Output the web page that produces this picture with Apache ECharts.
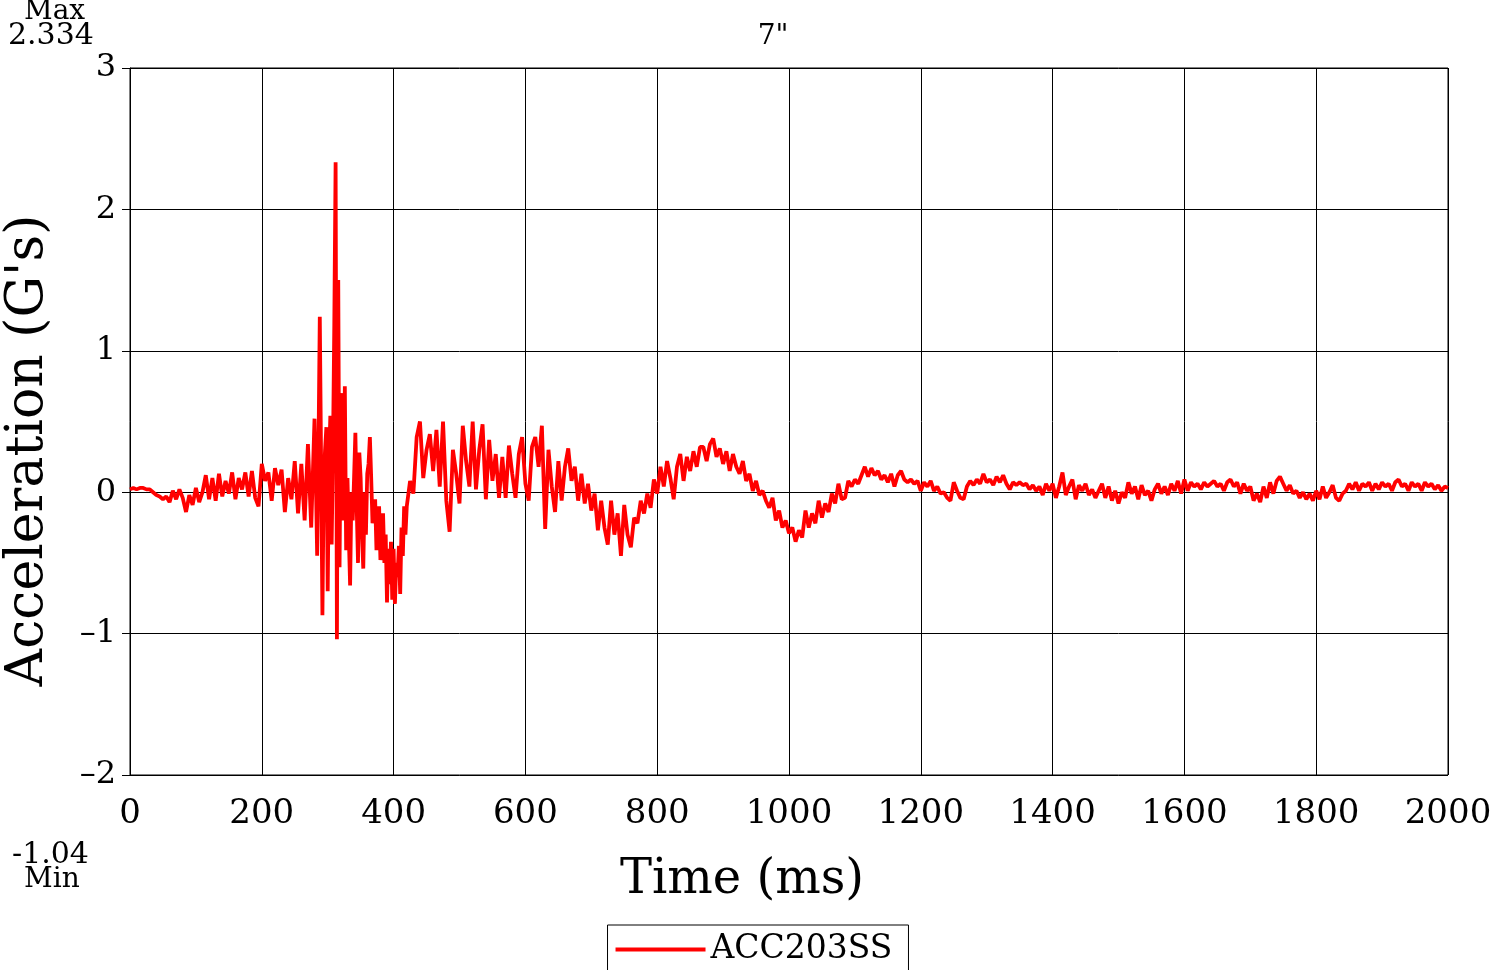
<!DOCTYPE html>
<html>
<head>
<meta charset="utf-8">
<script src="https://cdn.jsdelivr.net/npm/echarts@6/dist/echarts.min.js"></script>
<style>
html,body{margin:0;padding:0;background:#fff;}
#chart{width:1508px;height:970px;}
</style>
</head>
<body>
<div id="chart"></div>
<script>
// ---- data ----
const chartTitle = '7"';
const seriesName = 'ACC203SS';
const maxLabel = '2.334';
const minLabel = '-1.04';
const yTicks = { min: -2, max: 3, interval: 1 };
const xTicks = { min: 0, max: 2000, interval: 200 };

// segment A: 0..275 ms, every 5 ms
const segAStart = 0, segAStep = 5;
const segA = [
  0.02,0.03,0.02,0.03,0.03,0.02,0.02,0.0,-0.02,-0.03,
  -0.05,-0.03,-0.07,0.01,-0.05,0.02,-0.04,-0.14,-0.02,-0.09,
  0.03,-0.07,0.0,0.12,-0.05,0.1,-0.06,0.13,-0.03,0.08,
  -0.01,0.14,-0.05,0.1,0.02,0.14,-0.03,0.15,-0.04,-0.1,
  0.2,0.08,0.14,-0.06,0.17,0.05,0.16,-0.14,0.1,-0.05,
  0.22,-0.15,0.2,-0.2,0.34,-0.25
];
// segment B: 280..418 ms, every 2 ms (impact zone)
const segBStart = 280, segBStep = 2;
const segB = [
  0.52,0.1,-0.45,0.3,1.24,0.2,-0.87,0.1,0.3,0.46,
  -0.7,0.2,0.54,-0.37,0.3,1.18,2.334,-1.04,1.5,-0.53,
  0.7,0.54,-0.2,0.75,-0.41,0.1,-0.3,-0.66,0.0,-0.2,
  0.1,0.42,-0.1,-0.5,0.28,0.1,-0.3,-0.54,0.0,-0.3,
  0.13,0.2,0.39,0.1,-0.22,-0.1,-0.05,-0.41,-0.2,-0.1,
  -0.48,-0.3,-0.15,-0.5,-0.3,-0.78,-0.4,-0.65,-0.35,-0.76,
  -0.4,-0.79,-0.5,-0.6,-0.38,-0.72,-0.25,-0.45,-0.1,-0.3
];
// segment C: 420..2000 ms, every 5 ms
const segCStart = 420, segCStep = 5;
const segC = [
  -0.1,0.08,-0.01,0.39,0.5,0.1,0.3,0.41,0.15,0.44,
  0.04,0.5,-0.06,-0.28,0.3,0.13,-0.08,0.47,0.22,0.04,
  0.5,0.02,0.3,0.48,-0.05,0.37,0.08,0.27,-0.04,0.25,
  -0.04,0.33,0.13,-0.04,0.27,0.39,0.06,-0.06,0.32,0.39,
  0.18,0.47,-0.26,0.3,0.04,-0.14,0.22,-0.06,0.18,0.31,
  0.08,0.18,-0.06,0.13,-0.08,0.06,-0.13,-0.01,-0.27,-0.06,
  -0.25,-0.37,-0.06,-0.3,-0.15,-0.45,-0.09,-0.3,-0.39,-0.18,
  -0.22,-0.06,-0.15,-0.01,-0.11,0.09,-0.01,0.18,0.04,0.22,
  0.1,-0.05,0.18,0.27,0.08,0.25,0.15,0.29,0.18,0.32,
  0.32,0.22,0.34,0.38,0.25,0.31,0.2,0.29,0.15,0.27,
  0.18,0.13,0.22,0.08,0.13,0.01,0.08,-0.02,0.01,-0.06,
  -0.11,-0.04,-0.2,-0.13,-0.25,-0.2,-0.29,-0.25,-0.35,-0.27,
  -0.32,-0.13,-0.25,-0.15,-0.22,-0.06,-0.18,-0.08,-0.14,-0.01,
  -0.08,0.06,-0.05,-0.04,0.08,0.04,0.09,0.06,0.12,0.18,
  0.11,0.17,0.12,0.15,0.09,0.12,0.07,0.13,0.04,0.12,
  0.15,0.09,0.07,0.09,0.06,0.08,0.01,0.07,0.04,0.08,
  0.01,0.04,-0.01,0.0,-0.04,-0.06,0.07,0.01,-0.04,-0.05,
  0.04,0.08,0.05,0.09,0.06,0.13,0.07,0.09,0.05,0.11,
  0.07,0.12,0.06,0.02,0.07,0.05,0.07,0.05,0.06,0.02,
  0.05,0.01,0.04,-0.02,0.06,0.01,0.06,-0.04,0.04,0.14,
  -0.02,0.04,0.09,-0.05,0.05,0.01,0.06,-0.02,0.02,-0.04,
  0.01,0.06,-0.04,0.04,-0.06,0.01,-0.08,0.0,-0.04,0.07,
  -0.01,0.04,-0.05,0.05,-0.02,0.01,-0.06,0.02,0.06,-0.01,
  0.04,-0.02,0.06,0.01,0.08,-0.01,0.09,0.01,0.07,0.04,
  0.06,0.02,0.07,0.04,0.06,0.08,0.04,0.06,0.01,0.07,
  0.09,0.04,0.07,-0.01,0.06,0.01,0.04,-0.06,-0.01,-0.07,
  0.04,-0.04,0.07,-0.01,0.08,0.11,0.06,0.01,0.05,-0.01,
  0.01,-0.04,0.0,-0.05,-0.01,-0.06,0.01,-0.05,0.04,-0.04,
  0.0,0.05,-0.04,-0.06,-0.01,0.01,0.06,0.02,0.07,0.01,
  0.06,0.04,0.07,0.01,0.06,0.02,0.07,0.04,0.06,0.01,
  0.07,0.09,0.04,0.06,0.01,0.07,0.04,0.06,0.01,0.07,
  0.04,0.06,0.02,0.05,0.01,0.04,0.03
];

// ---- build [time, value] pairs ----
function seg(start, step, vals){ return vals.map((v,i)=>[start+i*step, v]); }
const points = [].concat(seg(segAStart,segAStep,segA), seg(segBStart,segBStep,segB), seg(segCStart,segCStep,segC));

const FONT = 'DejaVu Serif';
const chart = echarts.init(document.getElementById('chart'), null, {renderer:'canvas'});
chart.setOption({
  animation:false,
  backgroundColor:'#fff',
  title:{ text: chartTitle, left: 768, top: 18, textAlign:'center',
    textStyle:{ fontFamily: FONT, fontSize: 28, fontWeight:'normal', color:'#000' } },
  grid:{ left:130, right:60, top:68, bottom:195, show:true, borderColor:'#000', borderWidth:1,
    containLabel:false, outerBoundsMode:'none' },
  legend:{ data:[seriesName], left:'center', top:925, orient:'horizontal',
    icon:'rect', itemWidth:90, itemHeight:4, itemGap:12,
    padding:[8,16,8,8], borderColor:'#000', borderWidth:1, backgroundColor:'#fff',
    textStyle:{ fontFamily: FONT, fontSize: 33, color:'#000' } },
  xAxis:{ type:'value', min:xTicks.min, max:xTicks.max, interval:xTicks.interval,
    name:'Time (ms)', nameLocation:'middle', nameGap:82,
    nameTextStyle:{ fontFamily: FONT, fontSize: 48, color:'#000', padding:[0,94,0,0] },
    axisLine:{ show:true, lineStyle:{ color:'#000', width:1 } },
    axisTick:{ show:true, inside:false, length:9, lineStyle:{ color:'#000' } },
    axisLabel:{ fontFamily: FONT, fontSize: 34, color:'#000', margin:22,
      formatter: v => String(v) },
    splitLine:{ show:true, lineStyle:{ color:'#000', width:1 } } },
  yAxis:{ type:'value', min:yTicks.min, max:yTicks.max, interval:yTicks.interval,
    name:"Acceleration (G's)", nameLocation:'middle', nameGap:76,
    nameTextStyle:{ fontFamily: FONT, fontSize: 52, color:'#000', padding:[0,58,0,0] },
    axisLine:{ show:true, lineStyle:{ color:'#000', width:1 } },
    axisTick:{ show:true, inside:false, length:8, lineStyle:{ color:'#000' } },
    axisLabel:{ fontFamily: FONT, fontSize: 32, color:'#000', margin:14,
      formatter: v => v < 0 ? '\u2013' + Math.abs(v) : String(v) },
    splitLine:{ show:true, lineStyle:{ color:'#000', width:1 } } },
  series:[{ name: seriesName, type:'line', data: points, symbol:'none', showSymbol:false,
    sampling: null, lineStyle:{ color:'#ff0000', width:3.8 }, itemStyle:{ color:'#ff0000' } }],
  graphic:[
    { type:'text', left:24, top:-2, style:{ text:'Max', font:'28px "DejaVu Serif"', fill:'#000' } },
    { type:'text', left:8, top:21, style:{ text:maxLabel, font:'30px "DejaVu Serif"', fill:'#000' } },
    { type:'text', left:12, top:840, style:{ text:minLabel, font:'30px "DejaVu Serif"', fill:'#000' } },
    { type:'text', left:24, top:866, style:{ text:'Min', font:'28px "DejaVu Serif"', fill:'#000' } }
  ]
});
</script>
</body>
</html>
